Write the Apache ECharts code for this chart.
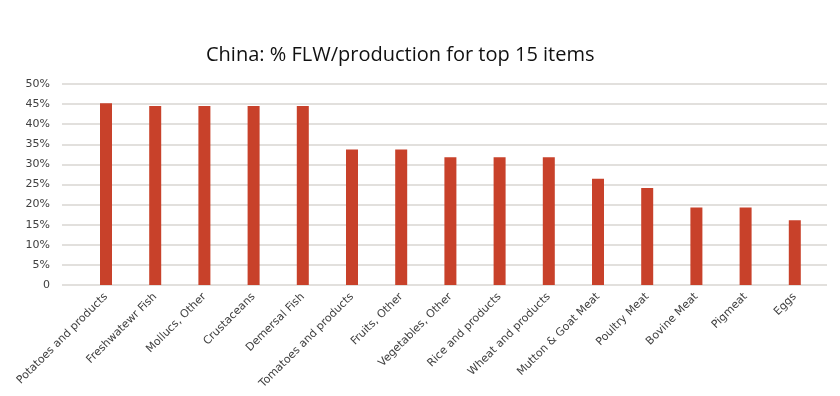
<!DOCTYPE html>
<html>
<head>
<meta charset="utf-8">
<script src="https://cdn.jsdelivr.net/npm/echarts@6/dist/echarts.min.js"></script>
<style>html,body{margin:0;padding:0;background:#fff;}#c{width:840px;height:396px;}</style>
</head>
<body>
<div id="c"></div>
<script>
const categories = ["Potatoes and products","Freshwatewr Fish","Mollucs, Other","Crustaceans","Demersal Fish","Tomatoes and products","Fruits, Other","Vegetables, Other","Rice and products","Wheat and products","Mutton & Goat Meat","Poultry Meat","Bovine Meat","Pigmeat","Eggs"];
const values = [45.2, 44.5, 44.5, 44.5, 44.5, 33.7, 33.7, 31.8, 31.8, 31.8, 26.4, 24.1, 19.3, 19.3, 16.1];
const titleText = "China: % FLW/production for top 15 items";

const chart = echarts.init(document.getElementById('c'));
chart.setOption({
  animation: false,
  backgroundColor: '#fff',
  title: {
    text: titleText, left: 201, top: 40,
    textStyle: {fontFamily: 'Open Sans', fontSize: 20, fontWeight: 'normal', color: '#111'}
  },
  grid: [
    {left: 62, right: 13, top: 84, bottom: 111, containLabel: false},
    {left: 81.4, right: 20.6, top: 84, bottom: 111, containLabel: false}
  ],
  xAxis: [
    {type: 'category', gridIndex: 0, data: categories, show: false},
    {
      type: 'category', gridIndex: 1, data: categories,
      axisLine: {show: false},
      axisTick: {show: false},
      axisLabel: {interval: 0, rotate: 45, margin: 10, fontFamily: 'DejaVu Sans', fontSize: 11, color: '#404040'}
    }
  ],
  yAxis: [
    {
      type: 'value', gridIndex: 0, min: 0, max: 50, interval: 5,
      axisLine: {show: false}, axisTick: {show: false},
      splitLine: {lineStyle: {color: '#d8d6d2', width: 1.5}},
      axisLabel: {margin: 12, fontFamily: 'DejaVu Sans', fontSize: 11, color: '#404040',
        formatter: v => v === 0 ? '0' : v + '%'}
    },
    {
      type: 'value', gridIndex: 1, min: 0, max: 50, interval: 5,
      axisLine: {show: false}, axisTick: {show: false}, axisLabel: {show: false}, splitLine: {show: false}
    }
  ],
  series: [{
    type: 'bar', xAxisIndex: 1, yAxisIndex: 1, data: values, barWidth: 12,
    itemStyle: {color: '#c8412a'}
  }]
});
</script>
</body>
</html>
